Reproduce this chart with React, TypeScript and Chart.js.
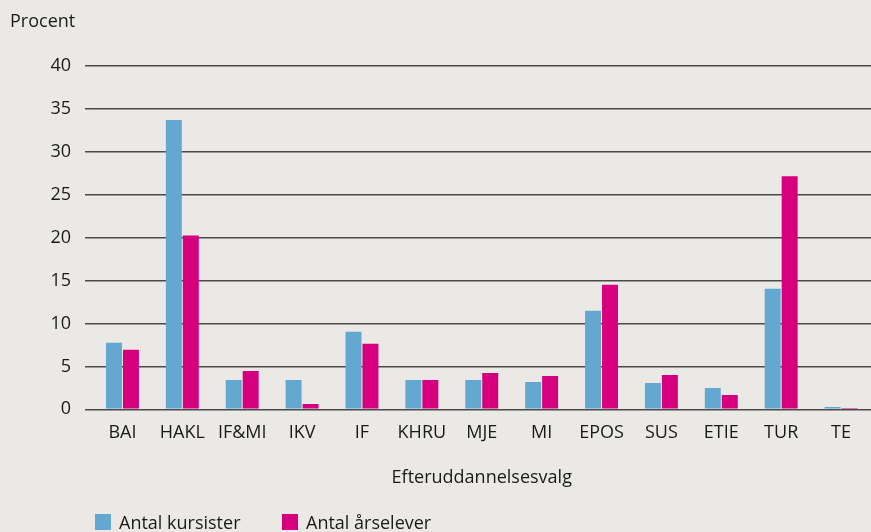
import React, { useEffect, useRef } from "react";
import { Chart, registerables } from "chart.js";

Chart.register(...registerables);

const categories = ["BAI", "HAKL", "IF&MI", "IKV", "IF", "KHRU", "MJE", "MI", "EPOS", "SUS", "ETIE", "TUR", "TE"];
const antalKursister = [7.75, 33.7, 3.42, 3.42, 9.03, 3.42, 3.42, 3.19, 11.48, 3.07, 2.49, 14.05, 0.27];
const antalAarselever = [6.93, 20.25, 4.47, 0.62, 7.63, 3.42, 4.24, 3.89, 14.52, 4.0, 1.67, 27.14, 0.15];
const seriesLabels = ["Antal kursister", "Antal årselever"];
const yAxisLabel = "Procent";
const xAxisLabel = "Efteruddannelsesvalg";
const yMin = 0;
const yMax = 40;
const yStep = 5;

const FONT = "'Open Sans', 'Noto Sans', sans-serif";
const FS = 18;
const BLUE = "#62a8d0";
const MAGENTA = "#d6007f";
const BG = "#eae9e5";
const TEXT = "#1a1a1a";

export default function App() {
  const ref = useRef<HTMLCanvasElement | null>(null);

  useEffect(() => {
    document.body.style.margin = "0";
    document.body.style.background = BG;
    const canvas = ref.current;
    if (!canvas) return;

    const bgPlugin = {
      id: "bg",
      beforeDraw(chart: any) {
        const ctx = chart.ctx;
        ctx.save();
        ctx.fillStyle = BG;
        ctx.fillRect(0, 0, chart.width, chart.height);
        ctx.restore();
      },
    };

    const extrasPlugin = {
      id: "extras",
      afterDraw(chart: any) {
        const ctx = chart.ctx;
        ctx.save();
        ctx.fillStyle = TEXT;
        ctx.font = `${FS}px ${FONT}`;
        ctx.textBaseline = "alphabetic";
        ctx.textAlign = "left";
        ctx.fillText(yAxisLabel, 10, 26.5);

        const items = [
          { x: 95, color: BLUE, label: chart.data.datasets[0].label },
          { x: 282, color: MAGENTA, label: chart.data.datasets[1].label },
        ];
        for (const it of items) {
          ctx.fillStyle = it.color;
          ctx.fillRect(it.x, 514, 16, 16);
          ctx.fillStyle = TEXT;
          ctx.fillText(it.label, it.x + 24, 528.5);
        }
        ctx.restore();
      },
    };

    const chart = new Chart(canvas, {
      type: "bar",
      data: {
        labels: categories,
        datasets: [
          {
            label: seriesLabels[0],
            data: antalKursister,
            backgroundColor: BLUE,
            categoryPercentage: 0.567,
            barPercentage: 0.94,
          },
          {
            label: seriesLabels[1],
            data: antalAarselever,
            backgroundColor: MAGENTA,
            categoryPercentage: 0.567,
            barPercentage: 0.94,
          },
        ],
      },
      options: {
        responsive: false,
        animation: false,
        layout: { padding: { top: 66, right: 0, bottom: 43, left: 0 } },
        plugins: {
          legend: { display: false },
          tooltip: { enabled: false },
          title: { display: false },
        },
        scales: {
          x: {
            grid: { display: false, drawTicks: false },
            border: { display: false },
            ticks: { color: TEXT, font: { family: FONT, size: FS }, padding: 13, maxRotation: 0, autoSkip: false },
            title: {
              display: true,
              text: xAxisLabel,
              color: TEXT,
              font: { family: FONT, size: FS },
              padding: { top: 10.5, bottom: 0 },
            },
          },
          y: {
            min: yMin,
            max: yMax,
            ticks: { stepSize: yStep, color: TEXT, font: { family: FONT, size: FS }, padding: 14 },
            grid: { color: "#4a4a4a", lineWidth: 1.5, drawTicks: true, tickLength: 7.5, tickColor: "#4a4a4a", tickWidth: 1.5 },
            border: { display: false },
            afterFit(scale: any) {
              scale.width = 92.5;
            },
          },
        },
      },
      plugins: [bgPlugin, extrasPlugin],
    });

    return () => chart.destroy();
  }, []);

  return <canvas ref={ref} width={871} height={532} style={{ display: "block" }} />;
}
